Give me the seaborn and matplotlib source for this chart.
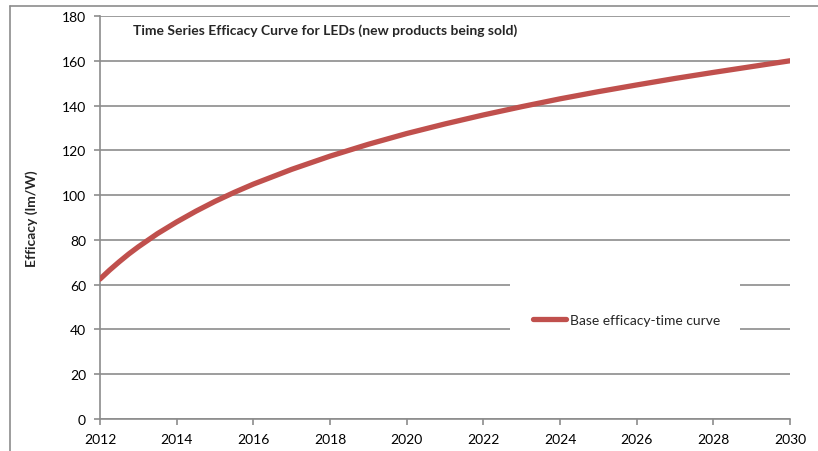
import matplotlib
matplotlib.use("Agg")
import matplotlib.pyplot as plt
from matplotlib.lines import Line2D
from matplotlib.patches import Rectangle
import seaborn as sns
import pandas as pd

# Efficacy of new LED products over time (lm/W)
years = [2012, 2012.25, 2012.5, 2012.75, 2013, 2013.5, 2014, 2014.5, 2015, 2015.5,
         2016, 2017, 2018, 2019, 2020, 2021, 2022, 2023, 2024, 2025,
         2026, 2027, 2028, 2029, 2030]
efficacy = [62.5, 66.5, 70.2, 73.7, 76.9, 82.8, 88.0, 92.8, 97.2, 101.2,
            104.9, 111.5, 117.4, 122.7, 127.5, 131.8, 135.8, 139.5, 143.0, 146.2,
            149.2, 152.1, 154.8, 157.4, 160.0]
series_name = "Base efficacy-time curve"
title = "Time Series Efficacy Curve for LEDs (new products being sold)"
y_label = "Efficacy (lm/W)"
x_ticks = [2012, 2014, 2016, 2018, 2020, 2022, 2024, 2026, 2028, 2030]
y_ticks = [0, 20, 40, 60, 80, 100, 120, 140, 160, 180]

df = pd.DataFrame({"Year": years, "Efficacy": efficacy, "Series": series_name})

sns.set_style("white")
plt.rcParams["font.family"] = ["Lato", "DejaVu Sans"]

W, H = 818, 452
fig = plt.figure(figsize=(W / 100, H / 100), dpi=100)
ax = fig.add_axes([100 / W, 1 - 420 / H, 690 / W, 403 / H])

grey = "#8c8c8c"
red = "#C0504D"

sns.lineplot(data=df, x="Year", y="Efficacy", hue="Series", palette=[red],
             linewidth=3.8, ax=ax, legend=False, zorder=3)

ax.set_xlim(2012, 2030)
ax.set_ylim(0, 180)
ax.set_xticks(x_ticks)
ax.set_yticks(y_ticks)
ax.set_xticklabels([str(v) for v in x_ticks])
ax.set_yticklabels([str(v) for v in y_ticks])

ax.set_axisbelow(True)
ax.yaxis.grid(True, color=grey, linewidth=1.2)
ax.xaxis.grid(False)
for side in ("top", "right"):
    ax.spines[side].set_visible(False)
for side in ("left", "bottom"):
    ax.spines[side].set_color(grey)
    ax.spines[side].set_linewidth(1.2)

ax.tick_params(axis="both", which="major", length=4, width=1.2, color=grey,
               labelsize=10, labelcolor="black")
ax.tick_params(axis="y", direction="out", left=True, pad=6)
ax.tick_params(axis="x", direction="out", bottom=True, pad=6)

ax.set_xlabel("")
ax.set_ylabel(y_label, fontsize=10, fontweight="bold", labelpad=17)

ax.text((133 - 100) / 690, (420 - 31) / 403, title, transform=ax.transAxes,
        fontsize=10, fontweight="bold", ha="left", va="center")

# white legend area over the gridlines
ax.add_patch(Rectangle(((510 - 100) / 690, (420 - 362) / 403), 230 / 690, 110 / 403,
                       transform=ax.transAxes, facecolor="white", edgecolor="none",
                       zorder=1))
handle = Line2D([0], [0], color=red, linewidth=3.8, solid_capstyle="round")
leg = ax.legend([handle], [series_name], loc="center left",
                bbox_to_anchor=((533 - 100) / 690, (420 - 321) / 403),
                frameon=False, fontsize=10, handlelength=2.4, handletextpad=0.25,
                borderpad=0, borderaxespad=0)

# outer chart border
fig.add_artist(Line2D([10 / W, 10 / W], [0, 1 - 7 / H], transform=fig.transFigure,
                      color=grey, linewidth=1.2))
fig.add_artist(Line2D([10 / W, 1], [1 - 7 / H, 1 - 7 / H], transform=fig.transFigure,
                      color=grey, linewidth=1.2))

fig.savefig("out.png", dpi=100)
